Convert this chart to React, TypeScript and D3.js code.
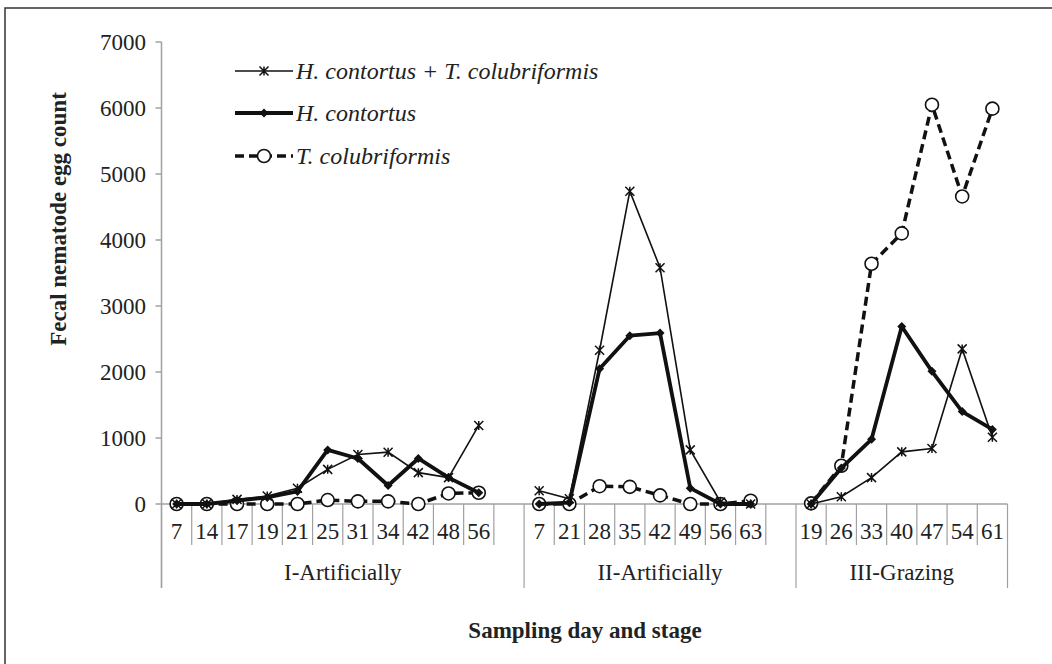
//egg count chart, three stages on a grouped category axis
import React, { useEffect, useRef } from 'react';
import * as d3 from 'd3';

const stageNames = ['I-Artificially', 'II-Artificially', 'III-Grazing'];
const stageIDays = ['7', '14', '17', '19', '21', '25', '31', '34', '42', '48', '56'];
const stageIIDays = ['7', '21', '28', '35', '42', '49', '56', '63'];
const stageIIIDays = ['19', '26', '33', '40', '47', '54', '61'];

// H. contortus + T. colubriformis
const mixedI = [0, 0, 70, 120, 240, 525, 750, 785, 475, 400, 1190];
const mixedII = [200, 80, 2330, 4740, 3580, 820, 30, 0];
const mixedIII = [0, 110, 400, 790, 840, 2350, 1010];
// H. contortus
const hcI = [0, 0, 50, 100, 190, 820, 690, 280, 690, 400, 170];
const hcII = [0, 20, 2050, 2550, 2590, 240, 0, 0];
const hcIII = [0, 545, 980, 2690, 2010, 1400, 1130];
// T. colubriformis
const tcI = [0, 0, 0, 0, 0, 60, 40, 40, 0, 160, 170];
const tcII = [0, 0, 270, 260, 130, 0, 0, 50];
const tcIII = [10, 580, 3640, 4100, 6050, 4660, 5990];

const yTicks = [0, 1000, 2000, 3000, 4000, 5000, 6000, 7000];
const legendNames = ['H. contortus + T. colubriformis', 'H. contortus', 'T. colubriformis'];

const FONT = 'Liberation Serif, Tinos, Times New Roman, serif';

const App = () => {
    const ref = useRef(null);

    useEffect(() => {
        document.body.style.margin = '0';
        const svg = d3.select(ref.current);
        svg.selectAll('*').remove();

        const stages = [stageIDays, stageIIDays, stageIIIDays];
        //slot offset of each stage, one empty slot between stages
        const offsets = [];
        let n = 0;
        stages.forEach((s, i) => {
            offsets.push(n);
            n += s.length + (i < stages.length - 1 ? 1 : 0);
        });

        const left = 161.5, right = 1007.5, top = 42, bottom = 504;
        const x = d3.scaleBand().domain(d3.range(n)).range([left, right]).paddingInner(0);
        const w = x.bandwidth();
        const cx = (slot) => x(slot) + w / 2;
        const y = d3.scaleLinear().domain([0, 7000]).range([bottom, top]);

        const txt = (sel, size, weight = 'normal', style = 'normal') => sel
            .attr('font-family', FONT).attr('font-size', size)
            .attr('font-weight', weight).attr('font-style', style)
            .attr('fill', '#222');

        //frame (only top and left show)
        svg.append('rect')
            .attr('x', 5).attr('y', 8).attr('width', 1100).attr('height', 700)
            .attr('fill', 'none').attr('stroke', '#333').attr('stroke-width', 1.5);

        const axisColor = '#a0a0a0';

        //y axis
        svg.append('line')
            .attr('x1', left).attr('x2', left).attr('y1', top).attr('y2', 588)
            .attr('stroke', axisColor).attr('stroke-width', 1.5);
        svg.selectAll('.ytick').data(yTicks).enter().append('line')
            .attr('x1', left - 6).attr('x2', left)
            .attr('y1', d => y(d)).attr('y2', d => y(d))
            .attr('stroke', axisColor).attr('stroke-width', 1.5);
        txt(svg.selectAll('.ylab').data(yTicks).enter().append('text')
            .attr('x', 146).attr('y', d => y(d))
            .attr('dy', '0.34em')
            .attr('text-anchor', 'end'), 23)
            .text(d => d);

        //x axis line
        svg.append('line')
            .attr('x1', left).attr('x2', right).attr('y1', bottom).attr('y2', bottom)
            .attr('stroke', axisColor).attr('stroke-width', 1.5);

        //category separators, longer ones between stages
        const groupEdges = offsets.concat([n]);
        d3.range(n + 1).forEach(k => {
            const gx = left + k * w;
            const isGroup = groupEdges.includes(k);
            svg.append('line')
                .attr('x1', gx).attr('x2', gx).attr('y1', bottom).attr('y2', isGroup ? 588 : 545)
                .attr('stroke', axisColor).attr('stroke-width', 1.2);
        });

        //day labels and stage labels
        stages.forEach((days, i) => {
            days.forEach((d, j) => {
                txt(svg.append('text')
                    .attr('x', cx(offsets[i] + j)).attr('y', 539)
                    .attr('text-anchor', 'middle'), 23)
                    .text(d);
            });
            const g0 = left + offsets[i] * w;
            const g1 = i < stages.length - 1 ? left + offsets[i + 1] * w : right;
            txt(svg.append('text')
                .attr('x', (g0 + g1) / 2).attr('y', 580)
                .attr('text-anchor', 'middle'), 23)
                .text(stageNames[i]);
        });

        //axis titles
        txt(svg.append('text')
            .attr('x', 585).attr('y', 638)
            .attr('text-anchor', 'middle'), 23, 'bold')
            .text('Sampling day and stage');
        txt(svg.append('text')
            .attr('transform', 'translate(66,219) rotate(-90)')
            .attr('text-anchor', 'middle'), 23, 'bold')
            .text('Fecal nematode egg count');

        const line = d3.line().x(d => cx(d.slot)).y(d => y(d.v));
        const toPts = (arr) => arr.map((vals, i) => vals.map((v, j) => ({ slot: offsets[i] + j, v })));

        const mixed = toPts([mixedI, mixedII, mixedIII]);
        const hc = toPts([hcI, hcII, hcIII]);
        const tc = toPts([tcI, tcII, tcIII]);

        const ink = '#111';

        //marker drawers
        const star = (g, px, py, r) => {
            g.append('path')
                .attr('d', `M${px - r},${py - r}L${px + r},${py + r}M${px - r},${py + r}L${px + r},${py - r}M${px},${py - r}L${px},${py + r}`)
                .attr('stroke', ink).attr('stroke-width', 1.5).attr('fill', 'none');
        };
        const diamond = (g, px, py, r) => {
            g.append('path')
                .attr('d', `M${px},${py - r}L${px + r},${py}L${px},${py + r}L${px - r},${py}Z`)
                .attr('fill', ink);
        };
        const circle = (g, px, py, r) => {
            g.append('circle')
                .attr('cx', px).attr('cy', py).attr('r', r)
                .attr('fill', '#fff').attr('stroke', ink).attr('stroke-width', 1.6);
        };

        //T. colubriformis
        const gTc = svg.append('g');
        tc.forEach(seg => {
            gTc.append('path').attr('d', line(seg)).attr('fill', 'none')
                .attr('stroke', ink).attr('stroke-width', 3.5).attr('stroke-dasharray', '9,5');
        });
        tc.flat().forEach(p => circle(gTc, cx(p.slot), y(p.v), 6.5));

        //H. contortus
        const gHc = svg.append('g');
        hc.forEach(seg => {
            gHc.append('path').attr('d', line(seg)).attr('fill', 'none')
                .attr('stroke', ink).attr('stroke-width', 3.8).attr('stroke-linejoin', 'round');
        });
        hc.flat().forEach(p => diamond(gHc, cx(p.slot), y(p.v), 4.5));

        //H. contortus + T. colubriformis
        const gMix = svg.append('g');
        mixed.forEach(seg => {
            gMix.append('path').attr('d', line(seg)).attr('fill', 'none')
                .attr('stroke', ink).attr('stroke-width', 1.6);
        });
        mixed.flat().forEach(p => star(gMix, cx(p.slot), y(p.v), 4.5));

        //legend
        const legY = [71, 113, 156];
        const lx0 = 235, lx1 = 293;
        const legend = svg.append('g');
        legend.append('line').attr('x1', lx0).attr('x2', lx1).attr('y1', legY[0]).attr('y2', legY[0])
            .attr('stroke', ink).attr('stroke-width', 1.6);
        star(legend, (lx0 + lx1) / 2, legY[0], 4.5);
        legend.append('line').attr('x1', lx0).attr('x2', lx1).attr('y1', legY[1]).attr('y2', legY[1])
            .attr('stroke', ink).attr('stroke-width', 3.8);
        diamond(legend, (lx0 + lx1) / 2, legY[1], 4.5);
        legend.append('line').attr('x1', lx0).attr('x2', lx1).attr('y1', legY[2]).attr('y2', legY[2])
            .attr('stroke', ink).attr('stroke-width', 3.5).attr('stroke-dasharray', '9,5');
        circle(legend, (lx0 + lx1) / 2, legY[2], 6.5);

        legendNames.forEach((name, i) => {
            txt(legend.append('text')
                .attr('x', 296).attr('y', legY[i]).attr('dy', '0.33em'), 24, 'normal', 'italic')
                .text(name);
        });
    }, []);

    return (
        <div>
            <svg ref={ref} width={1052} height={664} style={{ display: 'block', background: '#fff' }}></svg>
        </div>
    );
};

export default App;
